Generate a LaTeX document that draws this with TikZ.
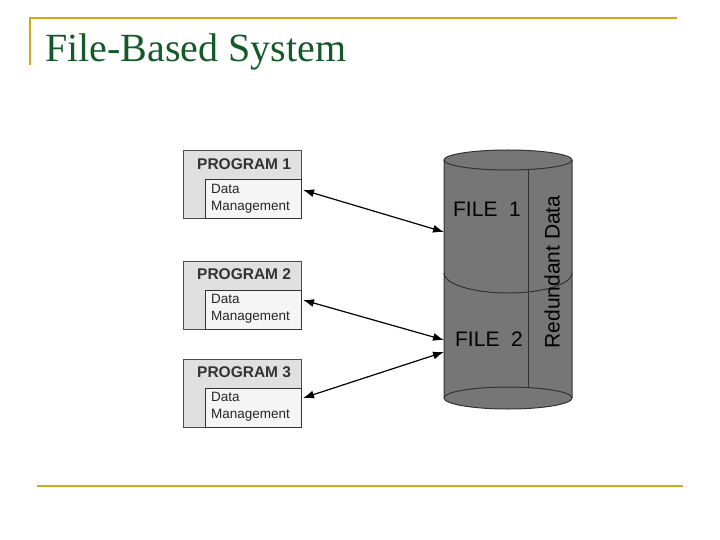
\documentclass[tikz,border=0pt]{standalone}
\usepackage{fontspec}
\setmainfont{Liberation Serif}
\newfontfamily\sans{Liberation Sans}
\usetikzlibrary{arrows.meta,patterns}
\definecolor{gold}{RGB}{204,170,30}
\definecolor{tgreen}{RGB}{20,90,40}
\definecolor{cyl}{RGB}{118,118,118}
\begin{document}
\begin{tikzpicture}[x=1pt,y=-1pt,
  prog/.style={draw=black!70,fill=black!12,line width=1pt},
  dm/.style={draw=black!80,fill=black!4,line width=1pt},
  lab/.style={font=\sans\bfseries\fontsize{15.5}{17}\selectfont,text=black!80},
  dml/.style={font=\sans\fontsize{13.5}{17}\selectfont,align=left,text=black!85},
  arr/.style={{Latex[length=11pt,width=8pt]}-{Latex[length=11pt,width=8pt]},line width=1.2pt}]
\useasboundingbox (0,0) rectangle (720,540);
\draw[gold,line width=1.5pt] (30,65) -- (30,18) -- (677,18);
\draw[gold,line width=1.5pt] (37,486) -- (683,486);
\node[anchor=west,text=tgreen,font=\fontsize{40}{44}\selectfont,inner sep=0pt] (title) at (45,52) {File-Based System};
% cylinder
\fill[cyl] (444,160) -- (444,398) arc[start angle=180,end angle=0,x radius=64,y radius=11] -- (572,160) -- cycle;
\draw[black!80,line width=1pt] (444,160) -- (444,398) arc[start angle=180,end angle=0,x radius=64,y radius=11] -- (572,160);
\draw[black!80,line width=1pt,fill=cyl] (508,160) ellipse[x radius=64,y radius=10];
\draw[black!80,line width=1pt] (444,398) arc[start angle=180,end angle=360,x radius=64,y radius=11];
\draw[black!80,line width=1pt] (444,273) arc[start angle=180,end angle=0,x radius=64,y radius=20];
\draw[black!80,line width=1pt] (528,170) -- (528,388);
\node[font=\sans\fontsize{21}{22}\selectfont] (f1) at (487,209) {FILE\ \ 1};
\node[font=\sans\fontsize{21}{22}\selectfont] (f2) at (489,339) {FILE\ \ 2};
\node[font=\sans\fontsize{21}{22}\selectfont,rotate=90] (rd) at (552,272) {Redundant Data};
\coordinate (c1) at (444,232);
\coordinate (c2) at (444,340);
\coordinate (c3) at (444,352);
% programs
\foreach \i/\y in {1/151,2/261,3/359}{
  \draw[prog] (183,\y) rectangle (301,\y+68);
  \draw[dm] (205,\y+29) rectangle (301,\y+68);
  \node[lab,anchor=west,inner sep=0pt] (p\i) at (197,\y+13) {PROGRAM \i};
  \node[dml,anchor=west,inner sep=0pt] (d\i) at (211,\y+48) {Data\\Management};
  \coordinate (e\i) at (303,\y+39);
}
\draw[arr] (e1) -- (c1);
\draw[arr] (e2) -- (c2);
\draw[arr] (e3) -- (c3);
\end{tikzpicture}
\end{document}
